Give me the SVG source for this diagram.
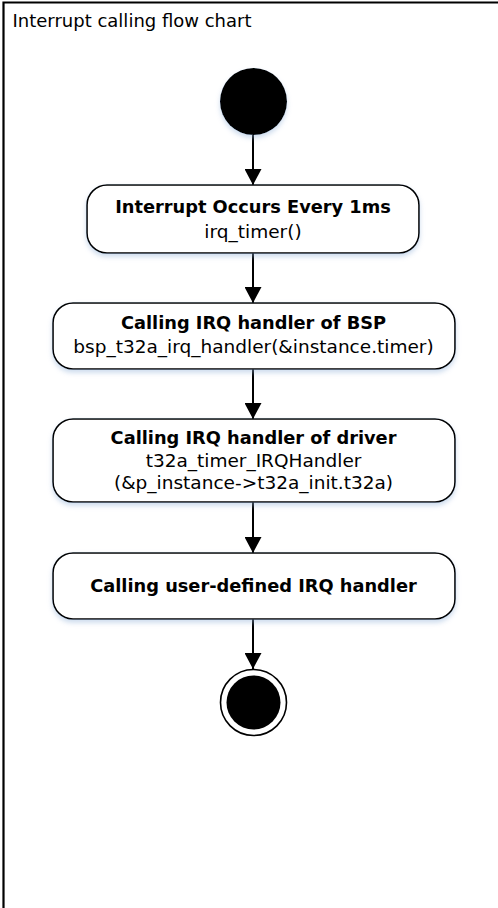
<svg xmlns="http://www.w3.org/2000/svg" width="498" height="908" viewBox="0 0 498 908">
<defs>
<style>
.frame{fill:none;stroke:#000;stroke-width:2.2}
.box{fill:#fff;stroke:#000;stroke-width:1.6;filter:url(#sh)}
.edge{fill:none;stroke:#000;stroke-width:2}
.b{font-family:"DejaVu Sans",Verdana,sans-serif;font-weight:bold;font-size:17.8px;fill:#000;text-anchor:middle}
.r{font-family:"DejaVu Sans",Verdana,sans-serif;font-size:18.5px;fill:#000;text-anchor:middle}
.title{font-family:"DejaVu Sans",Verdana,sans-serif;font-size:18px;fill:#000}
</style>
<filter id="sh" x="-10%" y="-20%" width="120%" height="150%">
<feDropShadow dx="0" dy="3" stdDeviation="2.5" flood-color="#8fb0d8" flood-opacity="0.45"/>
</filter>
<marker id="ah" markerUnits="userSpaceOnUse" markerWidth="16" markerHeight="17" refX="16" refY="8.5" orient="auto">
<path d="M0,0 L16,8.5 L0,17 Z" fill="#000"/>
</marker>
</defs>
<rect x="0" y="0" width="498" height="908" fill="#fff"/>
<path class="frame" d="M3.5,908 V2.5 H498"/>
<text class="title" x="12.5" y="27">Interrupt calling flow chart</text>
<g id="connectors">
<path class="edge" d="M253,135 V185" marker-end="url(#ah)"/>
<path class="edge" d="M253,253 V303" marker-end="url(#ah)"/>
<path class="edge" d="M253,369 V419" marker-end="url(#ah)"/>
<path class="edge" d="M253,502 V553" marker-end="url(#ah)"/>
<path class="edge" d="M253,619 V669" marker-end="url(#ah)"/>
</g>
<g id="start">
<circle cx="253.5" cy="101.5" r="33.5" fill="#000" filter="url(#sh)"/>
</g>
<g id="node1">
<rect class="box" x="87" y="185" width="332" height="68" rx="20"/>
<text class="b" x="253" y="213">Interrupt Occurs Every 1ms</text>
<text class="r" x="253" y="238">irq_timer()</text>
</g>
<g id="node2">
<rect class="box" x="53" y="303" width="402" height="66" rx="20"/>
<text class="b" x="253.5" y="329">Calling IRQ handler of BSP</text>
<text class="r" x="253.5" y="353">bsp_t32a_irq_handler(&amp;instance.timer)</text>
</g>
<g id="node3">
<rect class="box" x="53" y="419" width="402" height="83" rx="20"/>
<text class="b" x="253.5" y="444">Calling IRQ handler of driver</text>
<text class="r" x="253.5" y="467">t32a_timer_IRQHandler</text>
<text class="r" x="253.5" y="489">(&amp;p_instance-&gt;t32a_init.t32a)</text>
</g>
<g id="node4">
<rect class="box" x="53" y="553" width="402" height="66" rx="20"/>
<text class="b" x="253.5" y="592">Calling user-defined IRQ handler</text>
</g>
<g id="end">
<circle cx="253.5" cy="702.5" r="33" fill="#fff" stroke="#000" stroke-width="1.6"/>
<circle cx="253.5" cy="702.5" r="27" fill="#000"/>
</g>
</svg>
